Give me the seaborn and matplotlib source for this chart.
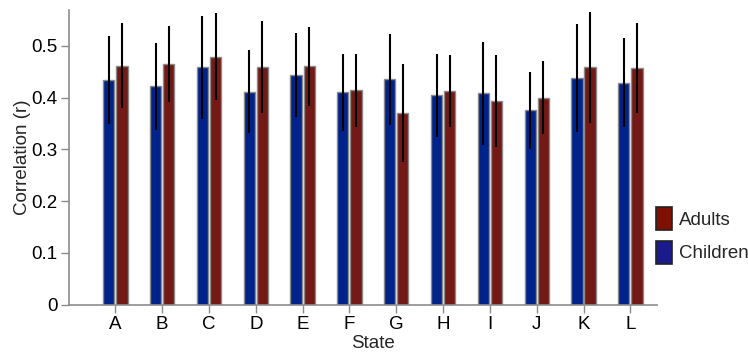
import numpy as np
import pandas as pd
import matplotlib
matplotlib.use("Agg")
import matplotlib.pyplot as plt
import seaborn as sns
from matplotlib.ticker import FuncFormatter

states = ["A", "B", "C", "D", "E", "F", "G", "H", "I", "J", "K", "L"]
children = [0.434, 0.422, 0.458, 0.411, 0.443, 0.410, 0.435, 0.404, 0.408, 0.375, 0.438, 0.429]
adults = [0.461, 0.465, 0.479, 0.459, 0.460, 0.414, 0.370, 0.413, 0.394, 0.400, 0.458, 0.457]
children_err = [0.085, 0.084, 0.100, 0.080, 0.081, 0.074, 0.088, 0.080, 0.100, 0.074, 0.104, 0.085]
adults_err = [0.082, 0.073, 0.084, 0.088, 0.076, 0.070, 0.094, 0.069, 0.089, 0.070, 0.107, 0.086]
groups = ["Children", "Adults"]
colors = {"Children": "#00238B", "Adults": "#731A16"}

df = pd.DataFrame({
    "State": states * 2,
    "Group": ["Children"] * len(states) + ["Adults"] * len(states),
    "r": children + adults,
})

sns.set_style("white")
plt.rcParams["font.family"] = ["Liberation Sans", "DejaVu Sans"]
FS = 13.5

fig = plt.figure(figsize=(7.48, 3.52), dpi=100)
ax = fig.add_axes([0.0922, 0.1344, 0.879 - 0.0922, 0.9716 - 0.1344])

sns.barplot(data=df, x="State", y="r", hue="Group", hue_order=groups,
            order=states, palette=colors, errorbar=None, width=0.56, gap=0.14,
            edgecolor="#8a8a8a", linewidth=1.0, saturation=1, ax=ax)

for cont, errs in zip(ax.containers, [children_err, adults_err]):
    for bar, e in zip(cont, errs):
        xc = bar.get_x() + bar.get_width() / 2
        h = bar.get_height()
        ax.plot([xc, xc], [h - e, h + e], color="black", lw=1.5,
                solid_capstyle="butt", zorder=5)

ax.set_ylim(0, 0.569)
ax.set_xlim(-0.99, 11.58)
ax.set_yticks([0, 0.1, 0.2, 0.3, 0.4, 0.5])
ax.yaxis.set_major_formatter(FuncFormatter(lambda v, p: "%g" % round(v, 2)))

for s in ["top", "right"]:
    ax.spines[s].set_visible(False)
for s in ["left", "bottom"]:
    ax.spines[s].set_color("#8c8c8c")
    ax.spines[s].set_linewidth(1.2)

ax.tick_params(axis="both", which="major", labelsize=FS, length=6,
               width=1.0, color="#8c8c8c", pad=2, bottom=True, left=True,
               labelcolor="black")
ax.set_xlabel("State", fontsize=FS)
ax.set_ylabel("Correlation (r)", fontsize=FS)
ax.xaxis.set_label_coords(0.516, -0.102)
ax.yaxis.set_label_coords(-0.065, 0.5)

handles, labels = ax.get_legend_handles_labels()
leg = ax.legend(handles[::-1], labels[::-1], loc="upper left",
                bbox_to_anchor=(0.998, 0.33), frameon=False, fontsize=FS,
                handlelength=0.86, handleheight=1.5, labelspacing=0.55,
                handletextpad=0.33, borderpad=0, borderaxespad=0)
leg_colors = {"Adults": "#7F0F00", "Children": "#1A1A8C"}
for h, t in zip(leg.legend_handles, leg.get_texts()):
    h.set_facecolor(leg_colors[t.get_text()])
    h.set_edgecolor("#222222")
    h.set_linewidth(1.2)

fig.savefig("out.png", dpi=100)
